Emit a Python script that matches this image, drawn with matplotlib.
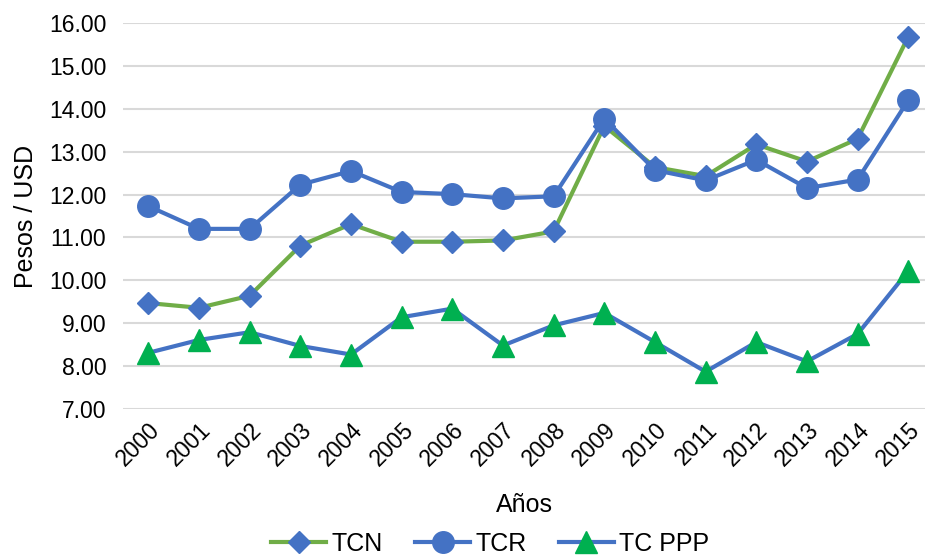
import matplotlib.pyplot as plt

plt.rcParams['font.family'] = ['Liberation Sans', 'DejaVu Sans']

years = list(range(2000, 2016))
tcn = [9.47, 9.36, 9.64, 10.81, 11.31, 10.90, 10.90, 10.93, 11.14, 13.60, 12.64, 12.43, 13.17, 12.77, 13.30, 15.68]
tcr = [11.73, 11.20, 11.20, 12.23, 12.55, 12.06, 12.01, 11.91, 11.96, 13.77, 12.57, 12.33, 12.81, 12.15, 12.35, 14.20]
tc_ppp = [8.31, 8.61, 8.79, 8.47, 8.27, 9.14, 9.34, 8.48, 8.95, 9.24, 8.56, 7.87, 8.56, 8.11, 8.75, 10.22]

fig = plt.figure(figsize=(9.25, 5.57), dpi=100)
ax = fig.add_axes([123 / 925, 1 - 409 / 557, (925 - 123) / 925, (409 - 23) / 557])

ax.plot(years, tcn, color='#70AD47', lw=3, marker='D', ms=11, mfc='#4472C4', mec='#4472C4', label='TCN', zorder=3)
ax.plot(years, tcr, color='#4472C4', lw=3, marker='o', ms=15.5, mfc='#4472C4', mec='#4472C4', label='TCR', zorder=3)
ax.plot(years, tc_ppp, color='#4472C4', lw=3, marker='^', ms=16, mfc='#00B050', mec='#00B050', label='TC PPP', zorder=3)

ax.set_ylim(7, 16)
ax.set_xlim(1999.5, 2015.33)
ax.set_yticks(range(7, 17))
ax.set_yticklabels([f"{v:.2f}" for v in range(7, 17)], fontsize=16.5)
ax.set_xticks(years)
ax.set_xticklabels([str(y) for y in years], rotation=45, fontsize=16.5, ha='right', rotation_mode='anchor')
ax.tick_params(axis='y', length=0, pad=12)
ax.tick_params(axis='x', length=0, pad=7)
ax.grid(axis='y', color='#D9D9D9', lw=1.5)
ax.set_axisbelow(True)
for s in ax.spines.values():
    s.set_visible(False)

ax.set_ylabel("Pesos / USD", fontsize=18, labelpad=8)
ax.set_xlabel("Años", fontsize=18, labelpad=16)
fig.legend(loc='lower center', ncol=3, frameon=False, fontsize=18, bbox_to_anchor=(0.53, -0.038),
           handlelength=2.2, columnspacing=1.3, handletextpad=0.2)

fig.savefig("out.png", dpi=100)
